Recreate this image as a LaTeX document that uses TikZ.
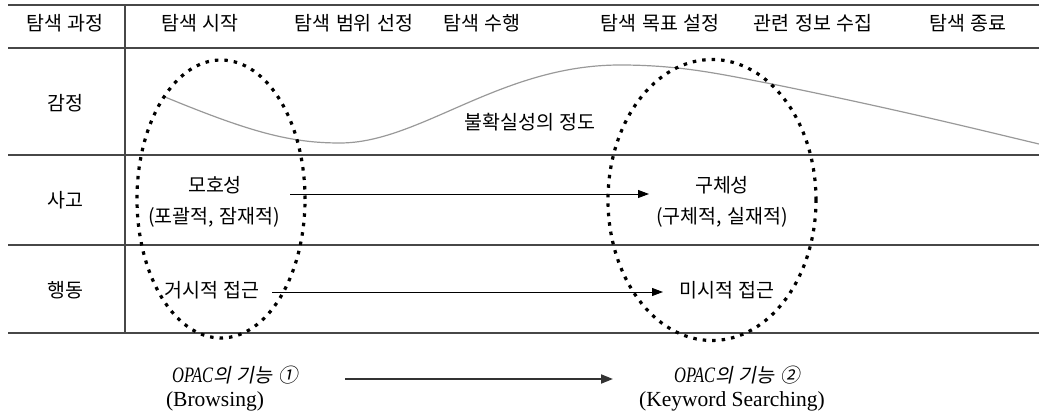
\documentclass[tikz,border=0pt]{standalone}
\usepackage{fontspec}
\setmainfont{Liberation Serif}
\newfontfamily\kr[WordSpace=1.3]{Noto Sans CJK KR}
\newfontfamily\krit[FakeSlant=0.2,WordSpace=1.3]{Noto Sans CJK KR}
\newfontfamily\opacfont[FakeStretch=0.75]{Liberation Serif}
\usetikzlibrary{arrows.meta,shapes.geometric}
\begin{document}
\begin{tikzpicture}[x=1pt,y=-1pt,
  rule/.style={draw=black!72, line width=1.3pt},
  lbl/.style={font=\kr\fontsize{19.5}{22}\selectfont, inner sep=0pt, text=black},
  eng/.style={font=\fontsize{21.5}{24}\selectfont, inner sep=0pt, text=black},
  emo/.style={draw=black!40, line width=1.2pt},
  dots/.style={draw=black, line width=3.2pt, dash pattern=on 3.5pt off 6pt, ellipse, inner sep=0pt},
  arr/.style={-{Triangle[length=11pt,width=8pt]}, line width=0.9pt},
  bigarr/.style={-{Triangle[length=12pt,width=9pt]}, line width=2pt, draw=black!80}]
\useasboundingbox (0,0) rectangle (1039,414);
% table rules
\draw[rule, line width=1.8pt] (8,5) -- (1039,5);
\draw[rule] (8,48) -- (1039,48);
\draw[rule] (8,155) -- (1039,155);
\draw[rule] (8,245) -- (1039,245);
\draw[rule] (8,333) -- (1039,333);
\draw[rule] (125,5) -- (125,333);
% header
\node[lbl] (h0) at (65,23) {탐색 과정};
\node[lbl] (h1) at (200,23) {탐색 시작};
\node[lbl] (h2) at (354,23) {탐색 범위 선정};
\node[lbl] (h3) at (482,23) {탐색 수행};
\node[lbl] (h4) at (660,23) {탐색 목표 설정};
\node[lbl] (h5) at (813,23) {관련 정보 수집};
\node[lbl] (h6) at (968,23) {탐색 종료};
% row labels
\node[lbl] (r1) at (65,103) {감정};
\node[lbl] (r2) at (65,200) {사고};
\node[lbl] (r3) at (65,290) {행동};
% emotion curve
\draw[emo] (165,97) .. controls (250,132) and (290,143) .. (340,143)
  .. controls (420,143) and (500,65) .. (620,65)
  .. controls (680,65) and (720,74) .. (772,84)
  .. controls (900,110) and (980,130) .. (1039,144);
\node[lbl] (unc) at (530,122) {불확실성의 정도};
% thought row
\node[lbl] (t1) at (215,185) {모호성};
\node[lbl] (t1b) at (214,217) {(포괄적, 잠재적)};
\node[lbl] (t2) at (722,185) {구체성};
\node[lbl] (t2b) at (722,217) {(구체적, 실재적)};
% action row
\node[lbl] (b1) at (212,290) {거시적 접근};
\node[lbl] (b2) at (727,290) {미시적 접근};
% ellipses
\node[dots, minimum width=168pt, minimum height=278pt] (e1) at (221,199) {};
\node[dots, minimum width=208pt, minimum height=281pt] (e2) at (712,200) {};
% arrows
\coordinate (a1s) at (290,194);
\coordinate (a1e) at (649,194);
\coordinate (a2s) at (272,292);
\coordinate (a2e) at (663,292);
\draw[arr] (a1s) -- (a1e);
\draw[arr] (a2s) -- (a2e);
% OPAC
\node[eng] (o1) at (235,375) {{\opacfont\itshape\fontsize{22}{24}\selectfont OPAC}{\krit\fontsize{19.5}{22}\selectfont 의 기능 ①}};
\node[eng] (o1b) at (215,401) {(Browsing)};
\node[eng] (o2) at (737,375) {{\opacfont\itshape\fontsize{22}{24}\selectfont OPAC}{\krit\fontsize{19.5}{22}\selectfont 의 기능 ②}};
\node[eng] (o2b) at (732,401) {(Keyword Searching)};
\coordinate (a3s) at (345,379);
\coordinate (a3e) at (613,379);
\draw[bigarr] (a3s) -- (a3e);
\end{tikzpicture}
\end{document}
